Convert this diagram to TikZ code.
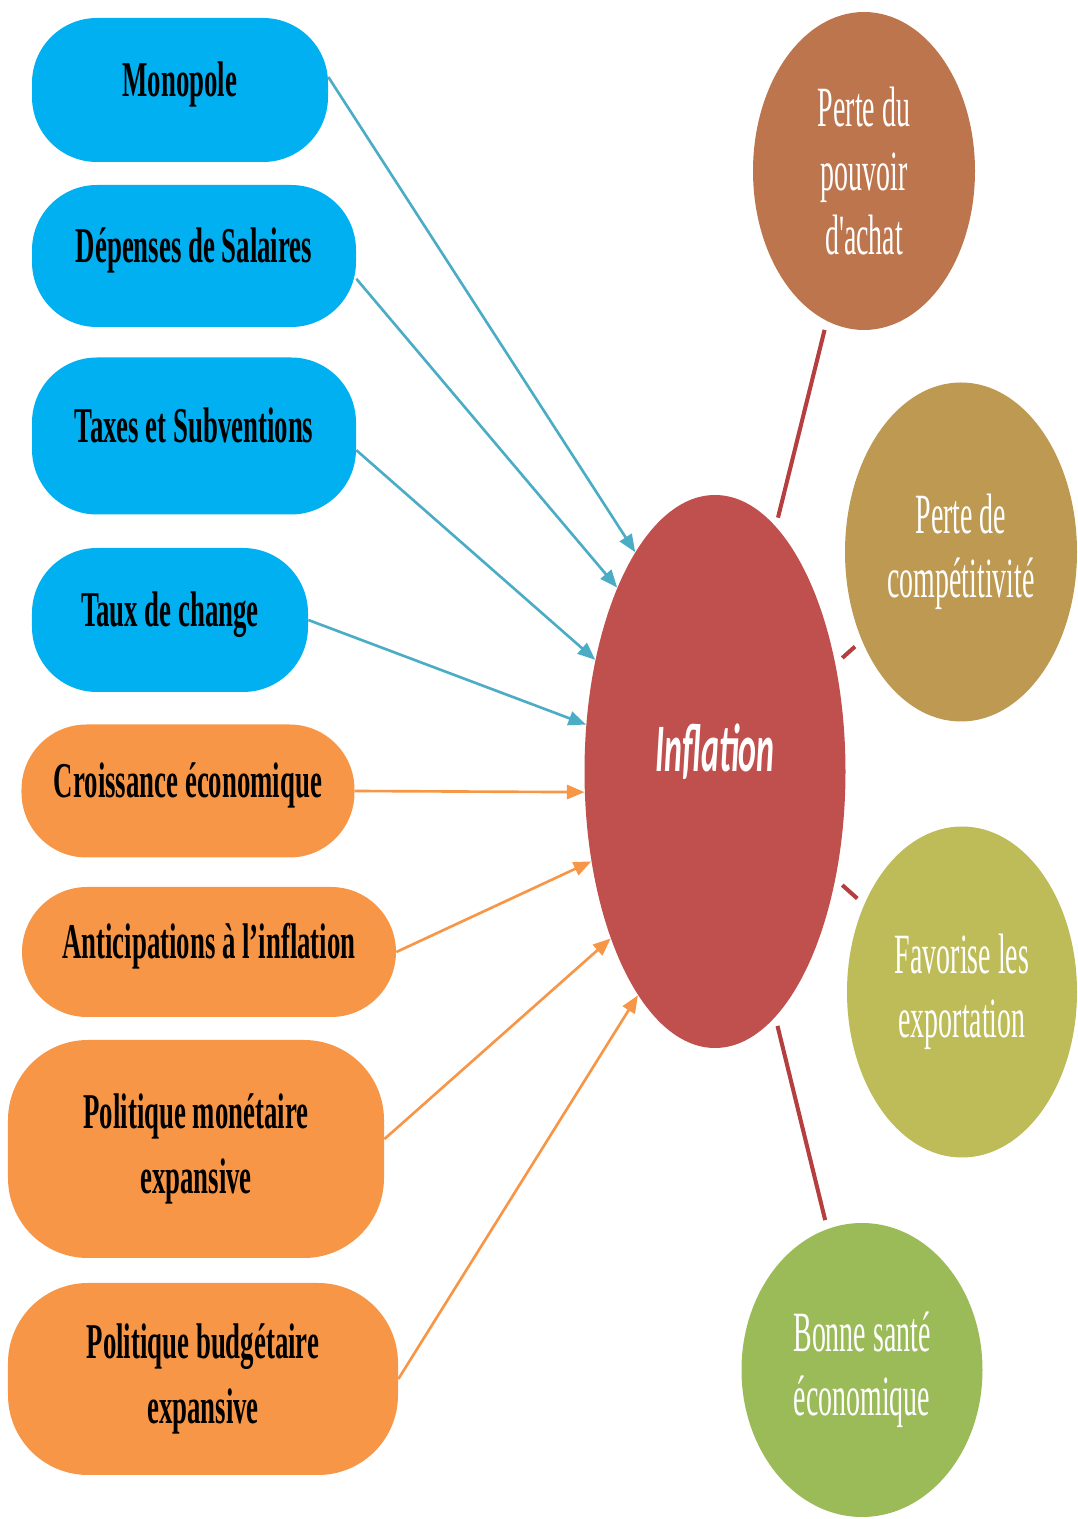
\documentclass[tikz,border=0pt]{standalone}
\usepackage{fontspec}
\usetikzlibrary{shapes.geometric,arrows.meta}
\newfontfamily\boxfont[FakeStretch=0.535]{Liberation Serif}
\newfontfamily\effectfont[FakeStretch=0.49]{Liberation Serif}
\newfontfamily\inflfont[FakeStretch=0.50]{Carlito}
\definecolor{causeblue}{RGB}{0,176,240}
\definecolor{causeorange}{RGB}{247,150,70}
\definecolor{arrowblue}{RGB}{75,172,198}
\definecolor{inflred}{RGB}{192,80,77}
\definecolor{linkred}{RGB}{181,62,62}
\definecolor{effbrown}{RGB}{189,117,78}
\definecolor{effgold}{RGB}{189,153,82}
\definecolor{effolive}{RGB}{189,188,88}
\definecolor{effgreen}{RGB}{155,187,89}
\tikzset{
  cause/.style = {rectangle, rounded corners=1.3cm, inner sep=0pt, align=center,
    font=\boxfont\bfseries\fontsize{28.5}{37}\selectfont},
  oneline/.style = {text height=20pt, text depth=13pt},
  effect/.style = {ellipse, inner sep=0pt, align=center, text=white,
    font=\effectfont\fontsize{32.4}{36.5}\selectfont},
  bluearrow/.style = {draw=arrowblue, line width=1.5pt, -{Triangle[length=10pt,width=8pt]}},
  orangearrow/.style = {draw=causeorange, line width=1.5pt, -{Triangle[length=10pt,width=8pt]}},
  link/.style = {draw=linkred, line width=2.3pt, shorten <=0.18cm, shorten >=0.18cm}
}

\begin{document}
\begin{tikzpicture}
  \useasboundingbox (0,0) rectangle (21.56,30.38);
  \node [cause, oneline, fill=causeblue, minimum width=5.92cm, minimum height=2.88cm] (A) at (3.60,28.58) {Monopole};
  \node [cause, oneline, fill=causeblue, minimum width=6.48cm, minimum height=2.84cm] (B) at (3.88,25.26) {Dépenses de Salaires};
  \node [cause, oneline, fill=causeblue, minimum width=6.48cm, minimum height=3.14cm] (C) at (3.88,21.66) {Taxes et Subventions};
  \node [cause, oneline, fill=causeblue, minimum width=5.52cm, minimum height=2.88cm] (D) at (3.40,17.98) {Taux de change};
  \node [cause, oneline, fill=causeorange, minimum width=6.66cm, minimum height=2.66cm] (E) at (3.76,14.56) {Croissance économique};
  \node [cause, oneline, fill=causeorange, minimum width=7.48cm, minimum height=2.60cm] (F) at (4.18,11.34) {Anticipations à l’inflation};
  \node [cause, rounded corners=1.6cm, fill=causeorange, minimum width=7.52cm, minimum height=4.36cm] (G) at (3.92,7.40) {Politique monétaire\\expansive};
  \node [cause, rounded corners=1.6cm, fill=causeorange, minimum width=7.80cm, minimum height=3.84cm] (H) at (4.06,2.80) {Politique budgétaire\\expansive};

  \node [ellipse, fill=inflred, inner sep=0pt, minimum width=5.22cm, minimum height=11.06cm,
    text=white, font=\inflfont\bfseries\itshape\fontsize{38.7}{40}\selectfont,
    text height=29pt, text depth=29pt] (I) at (14.30,14.95) {Inflation};

  \node [effect, fill=effbrown, minimum width=4.44cm, minimum height=6.36cm] (P) at (17.28,26.96) {Perte du\\pouvoir\\d'achat};
  \node [effect, fill=effgold, minimum width=4.64cm, minimum height=6.78cm] (Q) at (19.22,19.34) {Perte de\\compétitivité};
  \node [effect, fill=effolive, minimum width=4.60cm, minimum height=6.62cm] (R) at (19.24,10.54) {Favorise les\\exportation};
  \node [effect, fill=effgreen, minimum width=4.82cm, minimum height=5.88cm] (S) at (17.24,2.98) {Bonne santé\\économique};

  \draw [bluearrow] (A.5) to (I.110);
  \draw [bluearrow] (B.-8) to (I.118);
  \draw [bluearrow] (C.-5) to (I.137);
  \draw [bluearrow] (D.east) to (I.160);
  \draw [orangearrow] (E.east) to (I.189);
  \draw [orangearrow] (F.east) to (I.216);
  \draw [orangearrow] (G.3) to (I.238);
  \draw [orangearrow] (H.east) to (I.251);
  \draw [link] (I) -- (P);
  \draw [link] (I) -- (Q);
  \draw [link] (I) -- (R);
  \draw [link] (I) -- (S);
\end{tikzpicture}
\end{document}
